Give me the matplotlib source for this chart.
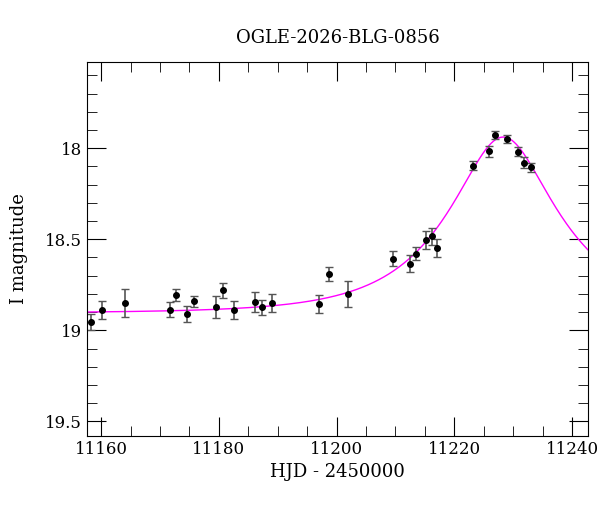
import numpy as np
import matplotlib
matplotlib.use("Agg")
import matplotlib.pyplot as plt
from matplotlib.ticker import MultipleLocator

hjd = [11158.3, 11160.1, 11164.0, 11171.7, 11172.8, 11174.6, 11175.7, 11179.5, 11180.7,
       11182.5, 11186.2, 11187.3, 11189.0, 11197.0, 11198.7, 11202.0, 11209.5, 11212.4,
       11213.5, 11215.2, 11216.2, 11217.1, 11223.2, 11225.9, 11226.9, 11229.0, 11230.8,
       11231.9, 11233.0]
mag = [18.954, 18.89, 18.85, 18.887, 18.806, 18.91, 18.84, 18.87, 18.78,
       18.89, 18.846, 18.874, 18.85, 18.856, 18.69, 18.80, 18.606, 18.634,
       18.58, 18.505, 18.484, 18.55, 18.097, 18.017, 17.927, 17.95, 18.02,
       18.08, 18.106]
err = [0.045, 0.05, 0.075, 0.04, 0.035, 0.045, 0.03, 0.06, 0.04,
       0.05, 0.055, 0.04, 0.05, 0.05, 0.04, 0.07, 0.04, 0.045,
       0.035, 0.05, 0.045, 0.05, 0.025, 0.03, 0.02, 0.02, 0.025,
       0.03, 0.025]

# PSPL model parameters
t0, tE, u0, base = 11228.3, 17.0, 0.44, 18.905

plt.rcParams['font.family'] = ['DejaVu Serif']
fig = plt.figure(figsize=(6.0, 5.12), dpi=100)
ax = fig.add_axes([87/600, 1-436/512, (588-87)/600, (436-62)/512])

t = np.linspace(11157.6, 11242.7, 600)
u = np.sqrt(u0**2 + ((t - t0)/tE)**2)
A = (u**2 + 2)/(u*np.sqrt(u**2 + 4))
ax.plot(t, base - 2.5*np.log10(A), color='#ff00ff', lw=1)

ax.errorbar(hjd, mag, yerr=err, fmt='o', color='black', ms=4, ecolor='#555555',
            elinewidth=1.2, capsize=3, capthick=1)

ax.set_xlim(11157.6, 11242.7)
ax.set_ylim(19.58, 17.527)
ax.xaxis.set_major_locator(MultipleLocator(20))
ax.xaxis.set_minor_locator(MultipleLocator(5))
ax.yaxis.set_major_locator(MultipleLocator(0.5))
ax.yaxis.set_minor_locator(MultipleLocator(0.1))
ax.yaxis.set_major_formatter(matplotlib.ticker.FuncFormatter(lambda v, p: f"{v:g}"))
ax.tick_params(which='both', direction='in', top=True, right=True, labelsize=12)
ax.tick_params(which='major', length=14)
ax.tick_params(which='minor', length=7)
ax.set_xlabel('HJD - 2450000', fontsize=13)
ax.set_ylabel('I magnitude', fontsize=13, labelpad=12)
ax.set_title('OGLE-2026-BLG-0856', fontsize=13, pad=14)
fig.savefig('out.png', dpi=100)
